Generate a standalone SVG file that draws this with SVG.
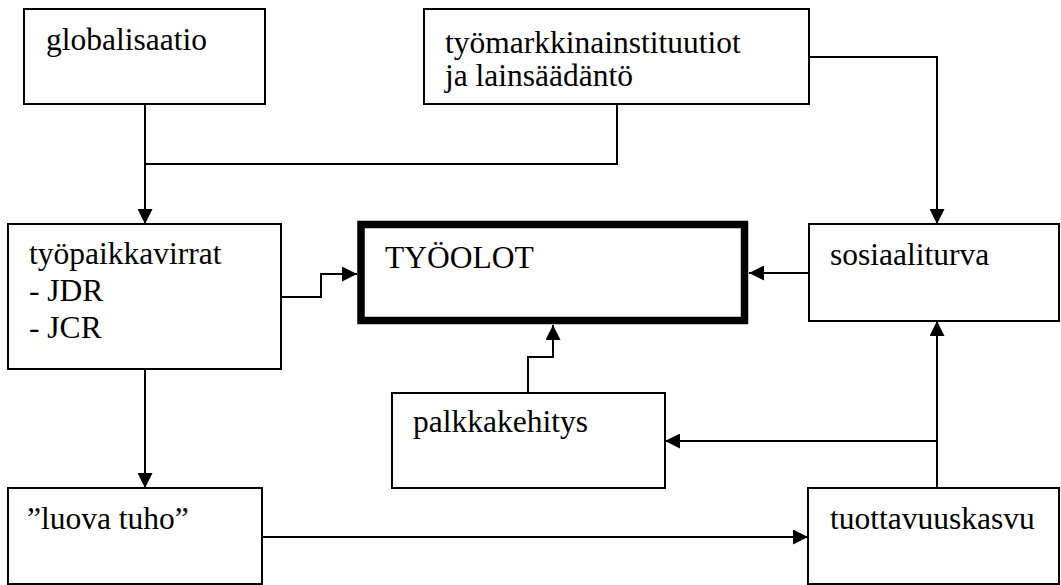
<svg xmlns="http://www.w3.org/2000/svg" width="1061" height="585" viewBox="0 0 1061 585">
<style>
.box{fill:#fff;stroke:#000;stroke-width:2}
.thick{fill:#fff;stroke:#000;stroke-width:7.5}
.c{fill:none;stroke:#000;stroke-width:2}
</style>
<defs>
<marker id="ah" markerUnits="userSpaceOnUse" markerWidth="15" markerHeight="15" refX="15" refY="7.5" orient="auto">
<path d="M0,0 L15,7.5 L0,15 z" fill="#000"/>
</marker>
</defs>
<rect width="1061" height="585" fill="#fff"/>
<g id="connectors">
<path class="c" d="M145,104 V224" marker-end="url(#ah)"/>
<path class="c" d="M617,104 V164 H145"/>
<path class="c" d="M809,57 H937 V224" marker-end="url(#ah)"/>
<path class="c" d="M809,273 H749" marker-end="url(#ah)"/>
<path class="c" d="M281,297 H321 V274 H357" marker-end="url(#ah)"/>
<path class="c" d="M528,393 V357 H553 V325" marker-end="url(#ah)"/>
<path class="c" d="M145,369 V488" marker-end="url(#ah)"/>
<path class="c" d="M262,537 H808" marker-end="url(#ah)"/>
<path class="c" d="M937,488 V321" marker-end="url(#ah)"/>
<path class="c" d="M937,441 H665" marker-end="url(#ah)"/>
</g>
<g font-family="Liberation Serif, DejaVu Serif, serif" font-size="31.5" fill="#000">
<g id="globalisaatio">
<rect class="box" x="24" y="9" width="241" height="95"/>
<text x="46" y="50">globalisaatio</text>
</g>
<g id="tyomarkkina">
<rect class="box" x="424" y="9" width="385" height="95"/>
<text x="445" y="53">työmarkkinainstituutiot</text>
<text x="445" y="86">ja lainsäädäntö</text>
</g>
<g id="tyopaikkavirrat">
<rect class="box" x="8" y="224" width="273" height="145"/>
<text x="29" y="264">työpaikkavirrat</text>
<text x="29" y="301">- JDR</text>
<text x="29" y="338">- JCR</text>
</g>
<g id="tyoolot">
<rect class="thick" x="361" y="224.5" width="383.5" height="96"/>
<text x="385" y="268">TYÖOLOT</text>
</g>
<g id="sosiaaliturva">
<rect class="box" x="809" y="224" width="250" height="97"/>
<text x="830" y="265">sosiaaliturva</text>
</g>
<g id="palkkakehitys">
<rect class="box" x="392" y="393" width="273" height="95"/>
<text x="413" y="432">palkkakehitys</text>
</g>
<g id="luovatuho">
<rect class="box" x="8" y="488" width="254" height="96"/>
<text x="27" y="529">”luova tuho”</text>
</g>
<g id="tuottavuuskasvu">
<rect class="box" x="808" y="488" width="251" height="96"/>
<text x="830" y="529">tuottavuuskasvu</text>
</g>
</g>
</svg>
